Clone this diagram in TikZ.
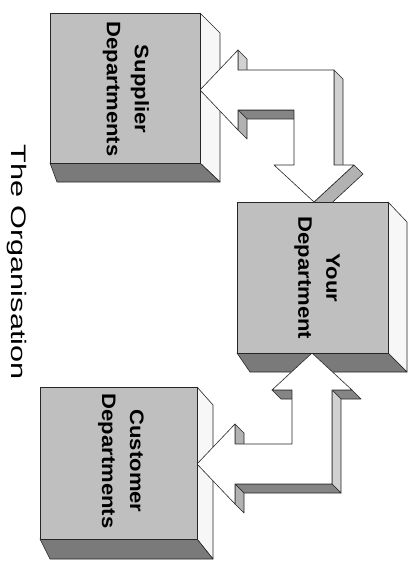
\documentclass[tikz,border=0pt]{standalone}
\usepackage{fontspec}
\setmainfont{Liberation Sans}
\begin{document}
\begin{tikzpicture}[x=1pt,y=-1pt,
  edge/.style={draw=black!85, line width=0.6pt, line join=round},
  boxfront/.style={edge, fill=black!25},
  boxbottom/.style={edge, fill=black!52},
  boxside/.style={edge, fill=black!3},
  arrowfront/.style={edge, fill=white},
  facelight/.style={edge, fill=black!18},
  facemid/.style={edge, fill=black!30},
  facedark/.style={edge, fill=black!48},
  boxlabel/.style={font=\fontsize{19.5}{28}\selectfont\bfseries, align=center, rotate=-90, xscale=1.13},
  titletext/.style={font=\fontsize{21}{25}\selectfont, rotate=-90, xscale=1.46, anchor=base}
]
\useasboundingbox[fill=white] (0,0) rectangle (417,564);

% ---- side and bottom faces of the three blocks
\path[boxside]   (200,13) -- (220,33) -- (220,182) -- (200,163) -- cycle;
\path[boxbottom] (50,163) -- (200,163) -- (220,182) -- (57,182) -- cycle;
\path[boxside]   (388,202) -- (407,222) -- (407,372) -- (388,353) -- cycle;
\path[boxbottom] (237,353) -- (388,353) -- (407,372) -- (250,372) -- cycle;
\path[boxside]   (197,387) -- (213,405) -- (213,559) -- (197,539) -- cycle;
\path[boxbottom] (40,539) -- (197,539) -- (213,559) -- (50,559) -- cycle;

% ---- upper double arrow (supplier <-> your department)
\path[facelight] (238,50) -- (238,70) -- (247,79) -- (247,59) -- cycle;
\path[facelight] (334,70) -- (334,165) -- (343,174) -- (343,79) -- cycle;
\path[facemid]   (354,165) -- (314,202) -- (323,211) -- (363,174) -- cycle;
\path[facedark]  (294,110) -- (238,110) -- (247,119) -- (303,119) -- cycle;
\path[facemid]   (238,110) -- (238,130) -- (247,139) -- (247,119) -- cycle;
\path[arrowfront] (200,90) -- (238,50) -- (238,70) -- (334,70) -- (334,165)
  -- (354,165) -- (314,202) -- (274,165) -- (294,165) -- (294,110)
  -- (238,110) -- (238,130) -- cycle;

% ---- lower double arrow (your department <-> customer)
\path[facedark]  (352,390) -- (332,390) -- (341,399) -- (361,399) -- cycle;
\path[facelight] (332,390) -- (332,484) -- (341,493) -- (341,399) -- cycle;
\path[facedark]  (332,484) -- (235,484) -- (244,493) -- (341,493) -- cycle;
\path[facemid]   (235,484) -- (235,504) -- (244,513) -- (244,493) -- cycle;
\path[facemid]   (235,424) -- (235,444) -- (244,453) -- (244,433) -- cycle;
\path[facedark]  (292,390) -- (272,390) -- (281,399) -- (301,399) -- cycle;
\path[arrowfront] (312,353) -- (352,390) -- (332,390) -- (332,484)
  -- (235,484) -- (235,504) -- (197,464) -- (235,424) -- (235,444)
  -- (292,444) -- (292,390) -- (272,390) -- cycle;

% ---- front faces of the blocks
\path[boxfront] (50,13) rectangle (200,163);
\path[boxfront] (237,202) rectangle (388,353);
\path[boxfront] (40,387) rectangle (197,539);

% ---- labels
\node[boxlabel] (sup) at (126,89) {Supplier\\Departments};
\node[boxlabel] (you) at (317,278) {Your\\Department};
\node[boxlabel] (cus) at (121,461) {Customer\\Departments};
\node[titletext] (title) at (12,262) {The Organisation};
\end{tikzpicture}
\end{document}
